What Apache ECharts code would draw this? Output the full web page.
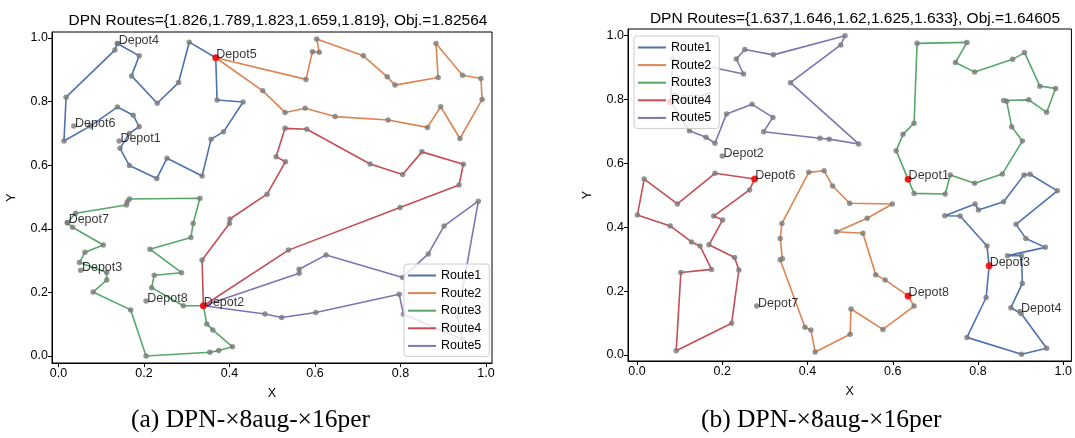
<!DOCTYPE html>
<html>
<head>
<meta charset="utf-8">
<script src="https://cdn.jsdelivr.net/npm/echarts@6/dist/echarts.min.js"></script>
<style>
  html, body { margin: 0; padding: 0; background: #fff; }
  #main { width: 1075px; height: 438px; }
</style>
</head>
<body>
<div id="main"></div>
<script>
// titles
var leftTitle = 'DPN Routes={1.826,1.789,1.823,1.659,1.819}, Obj.=1.82564';
var rightTitle = 'DPN Routes={1.637,1.646,1.62,1.625,1.633}, Obj.=1.64605';
var captions = ['(a) DPN-\u00d78aug-\u00d716per', '(b) DPN-\u00d78aug-\u00d716per'];

var routeNames = ['Route1', 'Route2', 'Route3', 'Route4', 'Route5'];
var tickValues = [0, 0.2, 0.4, 0.6, 0.8, 1.0];
var depotNames = ['Depot1', 'Depot2', 'Depot3', 'Depot4', 'Depot5', 'Depot6', 'Depot7', 'Depot8'];

// 左图 (a) 路线
var leftRoute1 = [[0.368,0.938],[0.371,0.805],[0.432,0.799],[0.386,0.705],[0.357,0.682],[0.336,0.566],[0.254,0.622],[0.230,0.558],[0.166,0.599],[0.144,0.653],[0.166,0.700],[0.189,0.721],[0.175,0.757],[0.138,0.783],[0.074,0.723],[0.013,0.676],[0.018,0.814],[0.132,0.962],[0.138,0.983],[0.189,0.944],[0.171,0.881],[0.231,0.795],[0.281,0.860],[0.306,0.987]];
var leftRoute2 = [[0.368,0.938],[0.579,0.870],[0.594,0.957],[0.610,0.955],[0.604,0.997],[0.713,0.944],[0.769,0.878],[0.787,0.852],[0.888,0.876],[0.883,0.983],[0.945,0.883],[0.988,0.873],[0.991,0.807],[0.939,0.684],[0.894,0.784],[0.863,0.719],[0.771,0.742],[0.647,0.753],[0.577,0.779],[0.530,0.766],[0.478,0.834]];
var leftRoute3 = [[0.339,0.158],[0.292,0.158],[0.218,0.215],[0.224,0.254],[0.288,0.262],[0.214,0.336],[0.310,0.373],[0.315,0.417],[0.331,0.496],[0.166,0.494],[0.161,0.485],[0.159,0.475],[0.040,0.449],[0.021,0.419],[0.033,0.405],[0.105,0.349],[0.062,0.326],[0.049,0.294],[0.113,0.263],[0.113,0.239],[0.081,0.201],[0.169,0.145],[0.205,0.000],[0.354,0.012],[0.375,0.017],[0.407,0.029],[0.361,0.082],[0.347,0.101]];
var leftRoute4 = [[0.339,0.158],[0.336,0.302],[0.400,0.417],[0.401,0.431],[0.488,0.509],[0.531,0.611],[0.509,0.627],[0.530,0.716],[0.581,0.713],[0.729,0.604],[0.805,0.571],[0.850,0.642],[0.947,0.603],[0.937,0.538],[0.799,0.467],[0.538,0.333]];
var leftRoute5 = [[0.339,0.158],[0.563,0.260],[0.563,0.273],[0.626,0.318],[0.805,0.247],[0.865,0.321],[0.902,0.409],[0.982,0.487],[0.934,0.124],[0.945,0.052],[0.807,0.131],[0.797,0.194],[0.602,0.137],[0.522,0.121],[0.483,0.132]];
var leftDepots = [[0.142,0.676],[0.339,0.158],[0.052,0.270],[0.138,0.983],[0.368,0.938],[0.036,0.723],[0.021,0.419],[0.205,0.173]];
var leftDepotUsed = [0, 1, 0, 0, 1, 0, 0, 0];

// 右图 (b) 路线
var rightRoute1 = [[0.826,0.279],[0.821,0.341],[0.758,0.435],[0.722,0.436],[0.793,0.473],[0.801,0.454],[0.860,0.480],[0.908,0.564],[0.922,0.566],[0.986,0.514],[0.889,0.409],[0.912,0.365],[0.958,0.337],[0.869,0.311],[0.902,0.311],[0.904,0.224],[0.877,0.148],[0.901,0.130],[0.961,0.021],[0.902,0.002],[0.774,0.055],[0.819,0.180]];
var rightRoute2 = [[0.636,0.185],[0.650,0.153],[0.577,0.080],[0.502,0.144],[0.500,0.065],[0.418,0.009],[0.408,0.078],[0.394,0.087],[0.336,0.298],[0.341,0.301],[0.336,0.365],[0.340,0.412],[0.403,0.572],[0.439,0.577],[0.459,0.529],[0.499,0.475],[0.599,0.473],[0.540,0.428],[0.468,0.386],[0.530,0.381],[0.560,0.251],[0.582,0.235]];
var rightRoute3 = [[0.636,0.550],[0.650,0.506],[0.723,0.504],[0.735,0.564],[0.792,0.538],[0.857,0.567],[0.904,0.670],[0.879,0.715],[0.867,0.795],[0.860,0.797],[0.919,0.799],[0.961,0.760],[0.982,0.835],[0.945,0.842],[0.909,0.947],[0.881,0.926],[0.792,0.886],[0.747,0.916],[0.774,0.979],[0.657,0.976],[0.650,0.726],[0.624,0.691],[0.608,0.640]];
var rightRoute4 = [[0.276,0.551],[0.183,0.569],[0.095,0.473],[0.017,0.551],[0.001,0.438],[0.078,0.404],[0.128,0.354],[0.148,0.341],[0.175,0.268],[0.103,0.258],[0.092,0.013],[0.222,0.099],[0.239,0.266],[0.229,0.305],[0.169,0.345],[0.201,0.423],[0.180,0.435],[0.264,0.517]];
var rightRoute5 = [[0.079,0.793],[0.084,0.927],[0.250,0.880],[0.233,0.927],[0.253,0.957],[0.320,0.940],[0.488,1.000],[0.478,0.971],[0.360,0.853],[0.520,0.661],[0.451,0.676],[0.429,0.679],[0.297,0.699],[0.319,0.744],[0.270,0.785],[0.210,0.755],[0.183,0.663],[0.162,0.682],[0.123,0.702]];
var rightDepots = [[0.636,0.550],[0.200,0.623],[0.826,0.279],[0.898,0.136],[0.079,0.793],[0.276,0.551],[0.281,0.153],[0.636,0.185]];
var rightDepotUsed = [1, 0, 1, 0, 1, 1, 0, 1];

var routeColors = ['#4c72b0', '#dd8452', '#55a868', '#c44e52', '#8172b3'];
var sansFont = '"Liberation Sans", Arial, sans-serif';

// 一个子图的所有系列
var buildSeries = function(routes, depots, used, idx) {
    var series = [];
    var points = [];
    for (var i = 0; i < routes.length; i++) {
        var r = routes[i];
        series.push({
            type: 'line',
            name: routeNames[i],
            xAxisIndex: idx,
            yAxisIndex: idx,
            color: routeColors[i],
            symbol: 'none',
            lineStyle: { width: 1.6, color: routeColors[i] },
            data: r.concat([r[0]]),
            animation: false,
            z: 2
        });
        points = points.concat(r);
    }
    series.push({
        type: 'scatter',
        name: 'points' + idx,
        xAxisIndex: idx,
        yAxisIndex: idx,
        symbolSize: 5.5,
        itemStyle: { color: '#7a7a7a' },
        data: points,
        animation: false,
        z: 3
    });
    var depotData = [];
    for (var j = 0; j < depots.length; j++) {
        depotData.push({
            name: depotNames[j],
            value: depots[j],
            symbolSize: used[j] ? 7 : 5.5,
            itemStyle: { color: used[j] ? '#ff0000' : '#7a7a7a' }
        });
    }
    series.push({
        type: 'scatter',
        name: 'depots' + idx,
        xAxisIndex: idx,
        yAxisIndex: idx,
        data: depotData,
        label: {
            show: true,
            formatter: '{b}',
            position: [4, 0],
            align: 'left',
            verticalAlign: 'middle',
            color: '#000',
            fontFamily: sansFont,
            fontSize: 12.5
        },
        animation: false,
        z: 4
    });
    return series;
};

var makeXAxis = function(idx, min, max) {
    return {
        type: 'value', gridIndex: idx, min: min, max: max,
        name: 'X', nameLocation: 'middle', nameGap: 24,
        nameTextStyle: { color: '#000', fontFamily: sansFont, fontSize: 12.5 },
        axisLine: { show: true, onZero: false, lineStyle: { color: '#000', width: 1 } },
        axisTick: { show: true, length: 4, customValues: tickValues, lineStyle: { color: '#000' } },
        axisLabel: {
            customValues: tickValues, margin: 4, color: '#000', fontFamily: sansFont, fontSize: 12.5,
            formatter: function(v) { return v.toFixed(1); }
        },
        splitLine: { show: false }
    };
};
var makeYAxis = function(idx, min, max) {
    return {
        type: 'value', gridIndex: idx, min: min, max: max,
        name: 'Y', nameLocation: 'middle', nameGap: 34, nameRotate: 90,
        nameTextStyle: { color: '#000', fontFamily: sansFont, fontSize: 12.5 },
        axisLine: { show: true, onZero: false, lineStyle: { color: '#000', width: 1 } },
        axisTick: { show: true, length: 4, customValues: tickValues, lineStyle: { color: '#000' } },
        axisLabel: {
            customValues: tickValues, margin: 4, color: '#000', fontFamily: sansFont, fontSize: 12.5,
            formatter: function(v) { return v.toFixed(1); }
        },
        splitLine: { show: false }
    };
};

var makeLegend = function(left, top) {
    return {
        data: routeNames,
        orient: 'vertical',
        left: left,
        top: top,
        icon: 'rect',
        itemWidth: 28,
        itemHeight: 2,
        itemGap: 4.6,
        padding: [5, 8, 4, 4],
        backgroundColor: 'rgba(255,255,255,0.8)',
        borderColor: '#cccccc',
        borderWidth: 1,
        borderRadius: 3,
        textStyle: { color: '#000', fontFamily: sansFont, fontSize: 12.5 },
        z: 10
    };
};

var series = buildSeries([leftRoute1, leftRoute2, leftRoute3, leftRoute4, leftRoute5], leftDepots, leftDepotUsed, 0)
    .concat(buildSeries([rightRoute1, rightRoute2, rightRoute3, rightRoute4, rightRoute5], rightDepots, rightDepotUsed, 1));

var chart = echarts.init(document.getElementById('main'), null, { renderer: 'canvas' });
var option = {
    backgroundColor: '#fff',
    animation: false,
    title: [
        { text: leftTitle, left: 273, top: 8, textAlign: 'center',
          textStyle: { fontFamily: sansFont, fontSize: 15.5, fontWeight: 'normal', color: '#000' } },
        { text: rightTitle, left: 850, top: 6, textAlign: 'center',
          textStyle: { fontFamily: sansFont, fontSize: 15.5, fontWeight: 'normal', color: '#000' } }
    ],
    grid: [
        { left: 52, top: 32, width: 440, height: 331, show: true, borderColor: '#000', borderWidth: 1, backgroundColor: 'transparent' },
        { left: 628, top: 29, width: 445, height: 332, show: true, borderColor: '#000', borderWidth: 1, backgroundColor: 'transparent' }
    ],
    xAxis: [makeXAxis(0, -0.015, 1.014), makeXAxis(1, -0.021, 1.019)],
    yAxis: [makeYAxis(0, -0.022, 1.019), makeYAxis(1, -0.019, 1.021)],
    legend: [makeLegend(404, 264), makeLegend(634, 36)],
    graphic: [
        { type: 'text', left: 131, top: 407,
          style: { text: captions[0], font: '25.5px "Liberation Serif", "Times New Roman", serif', fill: '#000' } },
        { type: 'text', left: 701, top: 407,
          style: { text: captions[1], font: '25.5px "Liberation Serif", "Times New Roman", serif', fill: '#000' } }
    ],
    series: series
};
chart.setOption(option);
</script>
</body>
</html>
